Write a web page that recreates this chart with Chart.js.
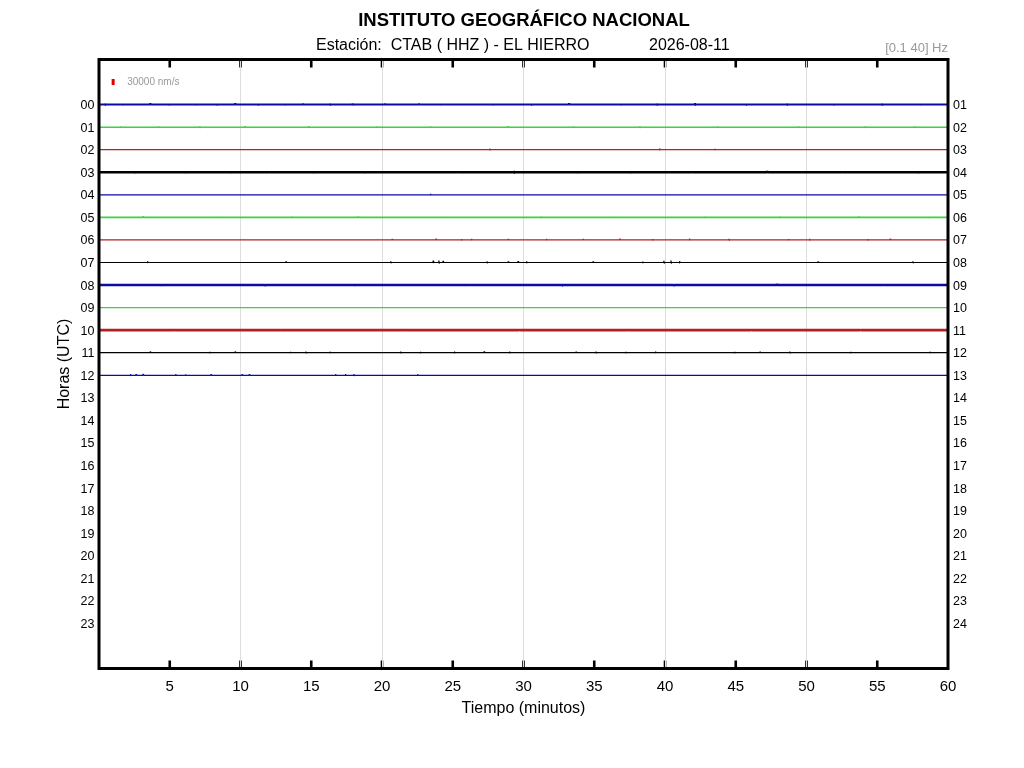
<!DOCTYPE html>
<html><head><meta charset="utf-8">
<script src="https://cdn.jsdelivr.net/npm/chart.js@4.4.1/dist/chart.umd.min.js"></script>
<style>html,body{margin:0;padding:0;background:#fff;} #wrap{width:1024px;height:768px;position:relative;}</style>
</head><body><div id="wrap"><canvas id="c" width="1024" height="768"></canvas></div>
<script>
const chartTitle = 'INSTITUTO GEOGRÁFICO NACIONAL';
const stationText = 'Estación:  CTAB ( HHZ ) - EL HIERRO';
const dateText = '2026-08-11';
const filterText = '[0.1 40] Hz';
const xTitle = 'Tiempo (minutos)';
const yTitle = 'Horas (UTC)';
const scaleBarLabel = '30000 nm/s';
const scaleBarNm = 30000;
const nmPerRow = 113000;
const scaleBarMinute = 1.0;
const scaleBarRow = -1;

const xTicks = [5,10,15,20,25,30,35,40,45,50,55,60];
const xGridLines = [10,20,30,40,50];
const hourRows = [0,1,2,3,4,5,6,7,8,9,10,11,12,13,14,15,16,17,18,19,20,21,22,23];
const leftHourLabels = ['00','01','02','03','04','05','06','07','08','09','10','11','12','13','14','15','16','17','18','19','20','21','22','23'];
const rightHourLabels = ['01','02','03','04','05','06','07','08','09','10','11','12','13','14','15','16','17','18','19','20','21','22','23','24'];

const traceHours = [0,1,2,3,4,5,6,7,8,9,10,11,12];
const traceColors = ['#0a0aa8','#3cd23c','#b42020','#000000','#0a0aa8','#3cd23c','#b42020','#000000','#0a0aa8','#3cd23c','#b42020','#000000','#0a0aa8'];
const traceWidths = [2,1.5,1.2,2.6,1.2,1.8,1.2,1.2,2.6,1.2,2.6,1.2,1.2];

// spikes: [minute, amplitude nm/s]
const spikes00 = [[0.4,6000],[1.7,5000],[3.6,7000],[4.9,5000],[6.8,6000],[8.3,5000],[9.6,7000],[11.2,5000],[13.1,6000],[14.4,5000],[16.3,6000],[17.9,7000],[20.2,5000],[22.6,6000],[24.1,5000],[27.8,6000],[30.5,5000],[33.2,7000],[36.9,5000],[39.4,6000],[42.1,8000],[45.7,5000],[48.6,6000],[51.9,5000],[55.3,6000],[58.1,5000]];
const spikes01 = [[1.5,5000],[4.2,4000],[7.1,5000],[10.3,4000],[14.8,6000],[19.6,5000],[23.4,4000],[28.9,5000],[33.5,4000],[38.2,5000],[43.7,4000],[49.4,5000],[54.1,4000],[57.6,5000]];
const spikes02 = [[27.6,6000],[39.6,7000],[43.5,5000]];
const spikes03 = [[2.5,6000],[6.1,5000],[9.4,7000],[12.0,5000],[15.2,6000],[18.8,5000],[25.3,5000],[29.3,6000],[33.8,5000],[37.6,6000],[41.9,5000],[47.2,6000],[52.5,5000],[57.9,6000]];
const spikes04 = [[23.4,6000]];
const spikes05 = [[3.1,5000],[8.7,4000],[13.6,5000],[18.3,4000],[24.6,5000],[31.2,4000],[36.4,5000],[42.8,4000],[48.1,5000],[53.7,4000],[58.6,5000]];
const spikes06 = [[20.7,5000],[23.8,6000],[25.6,5000],[26.3,6000],[28.9,5000],[31.6,6000],[34.2,5000],[36.8,6000],[39.1,5000],[41.7,7000],[44.5,6000],[48.7,5000],[50.2,6000],[54.3,5000],[55.9,6000]];
const spikes07 = [[3.4,6000],[13.2,5000],[20.6,6000],[23.6,9000],[24.0,10000],[24.3,8000],[27.4,5000],[28.9,6000],[29.6,7000],[30.2,6000],[34.9,6000],[38.4,5000],[39.9,9000],[40.4,10000],[41.0,7000],[50.8,5000],[57.5,6000]];
const spikes08 = [[4.4,5000],[11.7,5000],[18.1,6000],[26.2,5000],[32.7,6000],[40.6,5000],[47.9,6000],[55.4,5000]];
const spikes09 = [];
const spikes10 = [[5.3,5000],[12.8,5000],[21.4,6000],[29.7,5000],[37.3,6000],[46.1,5000],[53.8,6000]];
const spikes11 = [[3.6,6000],[7.8,5000],[9.6,6000],[13.5,5000],[14.6,6000],[16.3,5000],[21.3,6000],[22.7,5000],[25.1,6000],[27.2,7000],[29.0,6000],[33.7,5000],[35.1,6000],[37.2,5000],[39.3,6000],[44.9,5000],[46.7,5000],[48.8,6000],[53.1,5000],[58.7,5000]];
const spikes12 = [[2.2,7000],[2.6,6000],[3.1,7000],[5.4,6000],[6.1,5000],[7.9,6000],[10.1,5000],[10.6,6000],[16.7,6000],[17.4,7000],[18.0,6000],[22.5,6000]];
const traceSpikes = [spikes00,spikes01,spikes02,spikes03,spikes04,spikes05,spikes06,spikes07,spikes08,spikes09,spikes10,spikes11,spikes12];

const FONT = "'Liberation Sans', Arial, Helvetica, sans-serif";

function buildTrace(hour, sp) {
  const pts = [{x:0, y:hour}];
  sp.slice().sort((a,b)=>a[0]-b[0]).forEach(([m,a]) => {
    const d = a / nmPerRow;
    pts.push({x:m, y:hour}, {x:m + 0.02, y:hour - d}, {x:m + 0.04, y:hour + d * 0.3}, {x:m + 0.06, y:hour});
  });
  pts.push({x:60, y:hour});
  return pts;
}

const datasets = traceHours.map((h, i) => ({
  data: buildTrace(h, traceSpikes[i]),
  borderColor: traceColors[i],
  borderWidth: traceWidths[i],
  borderJoinStyle: 'bevel',
  pointRadius: 0,
  tension: 0,
  xAxisID: 'x', yAxisID: 'y'
}));
const half = scaleBarNm / nmPerRow / 2;
datasets.push({
  data: [{x:scaleBarMinute, y:scaleBarRow - half}, {x:scaleBarMinute, y:scaleBarRow + half}],
  borderColor: '#e00000', borderWidth: 3, pointRadius: 0, borderCapStyle: 'butt',
  xAxisID: 'x', yAxisID: 'y'
});

const decor = {
  id: 'decor',
  beforeDraw(chart) {
    const {ctx, chartArea: a, scales: {x}} = chart;
    ctx.save();
    ctx.strokeStyle = '#000'; ctx.lineWidth = 2.6;
    xTicks.forEach(v => {
      if (v >= 60) return;
      const px = x.getPixelForValue(v);
      ctx.beginPath();
      ctx.moveTo(px, a.bottom); ctx.lineTo(px, a.bottom - 8);
      ctx.moveTo(px, a.top); ctx.lineTo(px, a.top + 8);
      ctx.stroke();
    });
    ctx.restore();
  },
  afterDraw(chart) {
    const {ctx, chartArea: a, scales: {x, y}} = chart;
    ctx.save();
    ctx.strokeStyle = '#000'; ctx.lineWidth = 3;
    ctx.strokeRect(a.left, a.top, a.right - a.left, a.bottom - a.top);
    ctx.textBaseline = 'middle';
    ctx.fillStyle = '#000';
    ctx.textAlign = 'center';
    ctx.font = 'bold 18.5px ' + FONT;
    ctx.fillText(chartTitle, 524, 20.5);
    ctx.textAlign = 'left';
    ctx.font = '16px ' + FONT;
    ctx.fillText(stationText, 316, 46);
    ctx.fillText(dateText, 649, 46);
    ctx.fillStyle = '#999';
    ctx.textAlign = 'right';
    ctx.font = '13px ' + FONT;
    ctx.fillText(filterText, a.right, 48);
    ctx.textAlign = 'left';
    ctx.font = '10px ' + FONT;
    ctx.fillText(scaleBarLabel, x.getPixelForValue(scaleBarMinute) + 14, y.getPixelForValue(scaleBarRow));
    ctx.restore();
  }
};

new Chart(document.getElementById('c'), {
  type: 'line',
  data: { datasets },
  plugins: [decor],
  options: {
    responsive: false, animation: false, devicePixelRatio: 1,
    layout: { padding: { left: 51, top: 0, right: 0, bottom: 45.4 } },
    plugins: { legend: { display: false }, tooltip: { enabled: false } },
    scales: {
      x: {
        type: 'linear', position: 'bottom', min: 0, max: 60,
        afterBuildTicks: s => { s.ticks = xTicks.map(v => ({value: v})); },
        ticks: { padding: 9.5, color: '#000', font: { family: FONT, size: 15 }, maxRotation: 0, autoSkip: false },
        grid: { drawTicks: false, lineWidth: 1, color: c => (c.tick && xGridLines.includes(c.tick.value)) ? '#dddddd' : 'rgba(0,0,0,0)' },
        border: { display: false },
        title: { display: true, text: xTitle, color: '#000', font: { family: FONT, size: 16 }, padding: { top: 4, bottom: 4 } },
        afterFit: s => { s.height = 54.1; }
      },
      x2: {
        type: 'linear', position: 'top', min: 0, max: 60,
        ticks: { display: false }, grid: { display: false, drawTicks: false }, border: { display: false },
        afterFit: s => { s.height = 59.5; }
      },
      y: {
        type: 'linear', position: 'left', min: -2, max: 25, reverse: true,
        afterBuildTicks: s => { s.ticks = hourRows.map(v => ({value: v})); },
        ticks: { callback: (v, i) => leftHourLabels[i], padding: 4.5, labelOffset: 1, color: '#000', font: { family: FONT, size: 12.5 }, autoSkip: false },
        grid: { display: false, drawTicks: false }, border: { display: false },
        title: { display: true, text: yTitle, color: '#000', font: { family: FONT, size: 16 }, padding: { top: 4, bottom: 4 } },
        afterFit: s => { s.width = 48; }
      },
      y2: {
        type: 'linear', position: 'right', min: -2, max: 25, reverse: true,
        afterBuildTicks: s => { s.ticks = hourRows.map(v => ({value: v})); },
        ticks: { callback: (v, i) => rightHourLabels[i], padding: 5, labelOffset: 1, color: '#000', font: { family: FONT, size: 12.5 }, autoSkip: false },
        grid: { display: false, drawTicks: false }, border: { display: false },
        afterFit: s => { s.width = 76; }
      }
    }
  }
});
</script></body></html>
